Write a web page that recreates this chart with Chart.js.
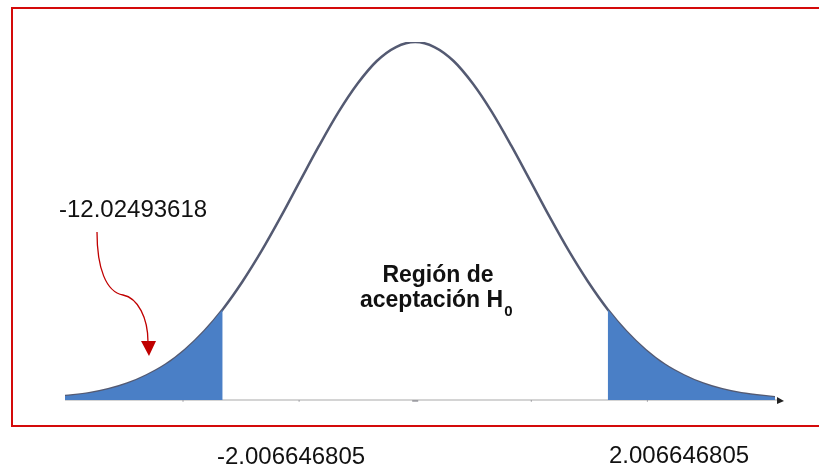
<!DOCTYPE html>
<html>
<head>
<meta charset="utf-8">
<script src="https://cdn.jsdelivr.net/npm/chart.js@4.4.1/dist/chart.umd.min.js"></script>
<style>
  html, body { margin: 0; padding: 0; background: #fff; }
  #wrap { width: 819px; height: 468px; position: relative; }
</style>
</head>
<body>
<div id="wrap"><canvas id="chart"></canvas></div>
<script>
(function() {
  'use strict';

  // curve (relative height, peak = 1)
  var curveX = [-3.65, -3.4, -3.2, -3.0, -2.8, -2.6, -2.4, -2.2, -2.006646805, -1.8, -1.6, -1.4, -1.2, -1.0, -0.8, -0.6, -0.4, -0.2, 0,
    0.2, 0.4, 0.6, 0.8, 1.0, 1.2, 1.4, 1.6, 1.8, 2.006646805, 2.2, 2.4, 2.6, 2.8, 3.0, 3.2, 3.4, 3.75];
  var curveY = [0.011, 0.019, 0.030, 0.046, 0.069, 0.099, 0.140, 0.192, 0.253, 0.331, 0.417, 0.512, 0.612, 0.711, 0.804, 0.884, 0.947, 0.986, 1.000,
    0.986, 0.947, 0.884, 0.804, 0.711, 0.612, 0.512, 0.417, 0.331, 0.253, 0.192, 0.140, 0.099, 0.069, 0.046, 0.030, 0.019, 0.008];
  var criticalLow = -2.006646805;
  var criticalHigh = 2.006646805;
  var axisTicks = [-2.42, -1.21, 0, 1.21, 2.42];
  var criticalLabels = ['-2.006646805', '2.006646805'];
  var statisticLabel = '-12.02493618';
  var regionLines = ['Región de', 'aceptación H'];
  var regionSub = '0';

  var FONT = '"Liberation Sans", Arial, sans-serif';
  var BLUE = '#4a7fc6';
  var RED = '#d40a0a';

  function points(filterFn) {
    var out = [];
    for (var i = 0; i < curveX.length; i++) {
      if (filterFn(curveX[i])) {
        out.push({ x: curveX[i], y: curveY[i] });
      }
    }
    return out;
  }

  var backdrop = {
    id: 'backdrop',
    beforeDatasetsDraw: function(chart) {
      var ctx = chart.ctx;
      var xs = chart.scales.x;
      var ys = chart.scales.y;
      var y0 = ys.getPixelForValue(0);
      ctx.save();
      ctx.strokeStyle = '#d4d4d4';
      ctx.lineWidth = 2;
      ctx.beginPath();
      ctx.moveTo(xs.getPixelForValue(curveX[0]), y0);
      ctx.lineTo(xs.right + 6, y0);
      ctx.stroke();
      ctx.restore();
    },
    afterDatasetsDraw: function(chart) {
      var ctx = chart.ctx;
      var xs = chart.scales.x;
      var ys = chart.scales.y;
      var y0 = ys.getPixelForValue(0);
      ctx.save();
      ctx.strokeStyle = 'rgba(90,90,100,0.6)';
      ctx.lineWidth = 1.5;
      axisTicks.forEach(function(t) {
        var px = xs.getPixelForValue(t);
        ctx.beginPath();
        ctx.moveTo(px - (t === 0 ? 3 : 0.5), y0 + 1);
        ctx.lineTo(px + (t === 0 ? 3 : 0.5), y0 + 1);
        ctx.stroke();
      });
      // small arrow at the end of the axis
      var ax = xs.right + 9;
      ctx.fillStyle = '#222';
      ctx.beginPath();
      ctx.moveTo(ax, y0 + 1);
      ctx.lineTo(ax - 7, y0 - 3);
      ctx.lineTo(ax - 7, y0 + 4);
      ctx.closePath();
      ctx.fill();
      ctx.restore();
    },
    afterDraw: function(chart) {
      var ctx = chart.ctx;
      ctx.save();
      // red frame (no right side)
      ctx.strokeStyle = RED;
      ctx.lineWidth = 2;
      ctx.beginPath();
      ctx.moveTo(819, 8);
      ctx.lineTo(12, 8);
      ctx.lineTo(12, 426);
      ctx.lineTo(819, 426);
      ctx.stroke();

      ctx.fillStyle = '#111';
      ctx.textBaseline = 'alphabetic';
      ctx.font = '24px ' + FONT;
      ctx.textAlign = 'left';
      ctx.fillText(statisticLabel, 59, 217);
      ctx.fillText(criticalLabels[0], 217, 464);
      ctx.fillText(criticalLabels[1], 609, 463);

      ctx.font = 'bold 23px ' + FONT;
      ctx.textAlign = 'center';
      ctx.fillText(regionLines[0], 438, 282);
      ctx.textAlign = 'left';
      ctx.fillText(regionLines[1], 360, 307);
      var w = ctx.measureText(regionLines[1]).width;
      ctx.font = 'bold 15px ' + FONT;
      ctx.fillText(regionSub, 360 + w + 1, 316);

      // red curved pointer
      ctx.strokeStyle = '#c00000';
      ctx.lineWidth = 1.3;
      ctx.beginPath();
      ctx.moveTo(97, 232);
      ctx.bezierCurveTo(97, 268, 106, 292, 123, 295);
      ctx.bezierCurveTo(138, 298, 148, 318, 148, 342);
      ctx.stroke();
      ctx.fillStyle = '#c00000';
      ctx.beginPath();
      ctx.moveTo(141, 341);
      ctx.lineTo(156, 341);
      ctx.lineTo(149, 356);
      ctx.closePath();
      ctx.fill();
      ctx.restore();
    }
  };

  new Chart(document.getElementById('chart'), {
    type: 'line',
    data: {
      datasets: [{
        data: points(function(x) { return x <= criticalLow; }),
        borderWidth: 0,
        backgroundColor: BLUE,
        fill: 'origin',
        pointRadius: 0,
        cubicInterpolationMode: 'monotone'
      }, {
        data: points(function(x) { return x >= criticalHigh; }),
        borderWidth: 0,
        backgroundColor: BLUE,
        fill: 'origin',
        pointRadius: 0,
        cubicInterpolationMode: 'monotone'
      }, {
        data: points(function() { return true; }),
        borderColor: '#545a72',
        borderWidth: 2.5,
        fill: false,
        pointRadius: 0,
        cubicInterpolationMode: 'monotone'
      }]
    },
    options: {
      responsive: true,
      maintainAspectRatio: false,
      animation: false,
      layout: { padding: { left: 65, right: 44, top: 42, bottom: 68 } },
      plugins: { legend: { display: false }, tooltip: { enabled: false } },
      scales: {
        x: { type: 'linear', min: -3.65, max: 3.75, display: false },
        y: { min: 0, max: 1, display: false }
      }
    },
    plugins: [backdrop]
  });
}());
</script>
</body>
</html>
